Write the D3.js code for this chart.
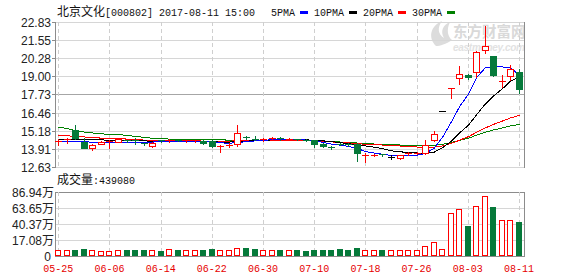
<!DOCTYPE html>
<html><head><meta charset="utf-8">
<script src="https://cdn.jsdelivr.net/npm/d3@7"></script>
<style>
html,body{margin:0;padding:0;background:#fff;}
svg{display:block;}
</style></head><body>
<svg id="c" width="578" height="276"></svg>
<script>
const stockName = "北京文化";
const stockInfo = "[000802] 2017-08-11 15:00";
const volLabel = "成交量";
const lastVolume = 439080;

const dates = ["05-25","05-26","05-31","06-01","06-02","06-05","06-06","06-07","06-08","06-09",
"06-12","06-13","06-14","06-15","06-16","06-19","06-20","06-21","06-22","06-23",
"06-26","06-27","06-28","06-29","06-30","07-03","07-04","07-05","07-06","07-07",
"07-10","07-11","07-12","07-13","07-14","07-17","07-18","07-19","07-20","07-21",
"07-24","07-25","07-26","07-27","07-28","07-31","08-01","08-02","08-03","08-04",
"08-07","08-08","08-09","08-10","08-11"];

const open = [14.44,14.56,15.23,14.41,13.97,14.25,14.43,14.41,14.50,14.50,
 14.32,14.13,14.52,14.45,14.52,14.45,14.45,14.46,14.48,14.05,
 14.17,14.23,14.71,14.60,14.55,14.60,14.67,14.55,14.58,14.55,
 14.50,14.27,14.03,14.28,14.25,14.22,13.44,13.45,13.53,13.35,
 13.28,13.55,13.58,13.59,14.50,16.55,18.15,18.87,19.10,19.29,
 20.84,20.44,18.66,19.05,19.29];
const high = [14.58,14.65,15.58,14.65,14.22,14.43,14.50,14.60,14.52,14.65,
 14.33,14.37,14.55,14.58,14.55,14.55,14.56,14.50,14.50,14.18,
 14.30,15.58,14.83,14.83,14.70,14.75,14.72,14.66,14.60,14.58,
 14.53,14.32,14.12,14.30,14.32,14.35,13.59,13.55,13.56,13.45,
 13.50,13.68,13.70,14.53,15.16,16.55,18.17,19.73,19.20,20.80,
 22.55,20.44,19.10,19.80,19.52];
const low = [14.18,14.30,14.60,13.97,13.83,14.22,13.95,14.39,14.42,14.25,
 14.18,14.05,14.40,14.42,14.45,14.42,14.40,14.22,14.05,13.71,
 14.06,14.10,14.60,14.55,14.48,14.52,14.55,14.50,14.50,14.48,
 14.06,14.02,13.90,14.15,14.10,13.07,13.00,13.40,13.42,13.22,
 13.22,13.50,13.52,13.57,14.45,16.55,17.46,18.45,18.80,18.98,
 20.63,19.03,18.28,18.75,17.86];
const close = [14.47,14.59,14.65,13.99,14.20,14.41,14.46,14.58,14.45,14.47,
 14.30,14.35,14.44,14.52,14.48,14.50,14.52,14.32,14.08,14.08,
 14.20,15.00,14.68,14.57,14.60,14.68,14.64,14.62,14.55,14.52,
 14.27,14.08,14.00,14.22,14.22,13.59,13.47,13.48,13.50,13.35,
 13.45,13.62,13.64,14.18,14.93,16.55,18.17,19.15,18.94,20.74,
 21.14,19.10,18.70,19.50,18.10];
const volume = [25000,26000,24000,40000,25000,11000,12000,25000,24000,25000,
 26000,24000,12000,35000,25000,24000,25000,26000,40000,25000,
 24000,59000,54000,40000,25000,24000,26000,25000,24000,15000,
 25000,26000,24000,40000,26000,54000,25000,24000,25000,26000,
 25000,24000,26000,83000,142000,35000,559000,618000,375000,666000,
 811000,651000,462000,462000,439080];

const ma5 = [14.48,14.48,14.48,14.45,14.40,14.38,14.37,14.37,14.37,14.40,
 14.40,14.42,14.45,14.47,14.48,14.48,14.48,14.47,14.42,14.36,
 14.34,14.38,14.45,14.50,14.55,14.58,14.58,14.58,14.58,14.56,
 14.52,14.38,14.28,14.20,14.12,13.97,13.75,13.64,13.56,13.48,
 13.44,13.47,13.50,13.62,14.00,14.75,15.85,16.90,17.80,18.95,
 19.66,19.72,19.70,19.66,19.10];
const ma10 = [14.62,14.62,14.62,14.62,14.60,14.57,14.55,14.53,14.52,14.52,
 14.50,14.48,14.46,14.45,14.44,14.44,14.44,14.44,14.43,14.42,
 14.42,14.45,14.48,14.52,14.55,14.57,14.58,14.58,14.58,14.57,
 14.55,14.50,14.45,14.38,14.30,14.22,14.15,14.06,13.95,13.80,
 13.73,13.69,13.65,13.65,13.72,14.02,14.49,15.06,15.60,16.34,
 17.11,17.66,18.17,18.70,19.02];
const ma20 = [14.88,14.86,14.81,14.78,14.72,14.70,14.67,14.65,14.63,14.59,
 14.56,14.55,14.54,14.53,14.52,14.51,14.50,14.49,14.49,14.49,
 14.49,14.50,14.51,14.52,14.52,14.52,14.52,14.52,14.52,14.52,
 14.51,14.47,14.43,14.40,14.36,14.30,14.27,14.24,14.21,14.17,
 14.14,14.10,14.07,14.06,14.07,14.15,14.33,14.55,14.80,15.10,
 15.42,15.66,15.90,16.12,16.30];
const ma30 = [15.47,15.36,15.22,15.12,15.06,15.00,14.96,14.93,14.90,14.80,
 14.76,14.68,14.65,14.63,14.62,14.61,14.60,14.59,14.58,14.57,
 14.56,14.56,14.55,14.55,14.55,14.55,14.55,14.54,14.54,14.53,
 14.50,14.47,14.45,14.42,14.38,14.35,14.31,14.28,14.26,14.23,
 14.21,14.20,14.19,14.19,14.20,14.26,14.39,14.54,14.69,14.90,
 15.11,15.27,15.41,15.55,15.66];

const maNames = ["5PMA","10PMA","20PMA","30PMA"];
const priceTicks = [12.63,13.91,15.18,16.46,17.73,19.00,20.28,21.55,22.83];
const volTicks = [170800,403700,636500,869400];
const volTickLabels = ["17.08万","40.37万","63.65万","86.94万"];
const volZeroLabel = "0";
const xTicks = ["05-25","06-06","06-14","06-22","06-30","07-10","07-18","07-26","08-03","08-11"];

// ---------- drawing ----------
const RED = "#ff0000", GREEN = "#05793a", GRID = "#d6d6d6", AXIS = "#8c8c8c";
const maColors = ["#0000ff", "#000000", "#ff0000", "#008000"];
const L = 55, R = 524, PT = 22, PB = 167, VT = 192, VB = 256;
const MONO = "'Liberation Mono','DejaVu Sans Mono',monospace";
const CJK = "'Noto Sans CJK SC','Noto Sans',sans-serif";
const SANS = "'Liberation Sans',Arial,sans-serif";

const svg = d3.select("#c");
const x = d3.scalePoint().domain(dates).range([58.3, 519]);
const yP = d3.scaleLinear().domain([12.63, 22.83]).range([PB, PT]);
const yV = d3.scaleLinear().domain([-62070, 869400]).range([VB, VT]);
const cx = d => Math.round(x(d));
const py = v => Math.round(yP(v));

// watermark
const wm = svg.append("g");
wm.append("path")
  .attr("d", "M436,46 C428,38 430,26 442,21 C437,28 438,34 444,38 C440,31 443,25 450,22 C446,30 448,37 452,40 C446,44 440,46 436,46 Z")
  .attr("fill", "#dcdcdc");
wm.append("text").attr("x", 453).attr("y", 37).text("东方财富网")
  .attr("font-family", CJK).attr("font-size", 14.5).attr("font-weight", "bold").attr("fill", "#d9d9d9");
wm.append("text").attr("x", 453).attr("y", 51).text("eastmoney.com")
  .attr("font-family", SANS).attr("font-size", 10).attr("font-weight", "bold").attr("font-style", "italic")
  .attr("fill", "#e2e2e2").attr("textLength", 72);

const grid = svg.append("g").attr("shape-rendering", "crispEdges");
priceTicks.forEach((t, i) => {
  const y = py(t) + 0.5;
  grid.append("line").attr("x1", L).attr("x2", R).attr("y1", y).attr("y2", y)
    .attr("stroke", i === 4 ? "#a6a6a6" : GRID);
});
volTicks.forEach((t, i) => {
  const y = Math.round(yV(t)) + 0.5;
  grid.append("line").attr("x1", L).attr("x2", R).attr("y1", y).attr("y2", y)
    .attr("stroke", i === volTicks.length - 1 ? AXIS : GRID);
});
xTicks.forEach(d => {
  const xx = cx(d) + 0.5;
  [[PT, PB], [VT, VB]].forEach(([a, b]) => {
    grid.append("line").attr("x1", xx).attr("x2", xx).attr("y1", a).attr("y2", b)
      .attr("stroke", "#cfcfcf").attr("stroke-dasharray", "4,3");
  });
});
[[PT, PB], [VT, VB]].forEach(([a, b]) => {
  grid.append("line").attr("x1", L + 0.5).attr("x2", L + 0.5).attr("y1", a).attr("y2", b + 0.5).attr("stroke", AXIS);
  grid.append("line").attr("x1", R + 0.5).attr("x2", R + 0.5).attr("y1", a).attr("y2", b + 0.5).attr("stroke", AXIS);
});
grid.append("line").attr("x1", L).attr("x2", R + 1).attr("y1", VB + 0.5).attr("y2", VB + 0.5).attr("stroke", AXIS);

const axg = svg.append("g");
priceTicks.forEach(t => {
  const y = py(t);
  axg.append("line").attr("x1", 52).attr("x2", L).attr("y1", y + 0.5).attr("y2", y + 0.5)
    .attr("stroke", AXIS).attr("shape-rendering", "crispEdges");
  axg.append("text").attr("x", 51).attr("y", y + 5).attr("text-anchor", "end")
    .attr("font-family", SANS).attr("font-size", 12).attr("fill", "#222").text(d3.format(".2f")(t));
});
volTicks.forEach((t, i) => {
  const y = Math.round(yV(t));
  axg.append("text").attr("x", 54).attr("y", y + 5).attr("text-anchor", "end")
    .attr("font-family", SANS).attr("font-size", 12).attr("fill", "#222")
    .call(s => {
      s.append("tspan").text(volTickLabels[i].replace("万", ""));
      s.append("tspan").attr("font-family", CJK).attr("font-size", 12).text("万");
    });
});
axg.append("text").attr("x", 51).attr("y", VB + 5).attr("text-anchor", "end")
  .attr("font-family", SANS).attr("font-size", 12).attr("fill", "#222").text(volZeroLabel);

xTicks.forEach(d => {
  axg.append("text").attr("x", x(d)).attr("y", 272).attr("text-anchor", "middle")
    .attr("font-family", MONO).attr("font-size", 10).attr("fill", "#e60000").text(d);
});

const title = svg.append("text").attr("x", 57).attr("y", 16).attr("fill", "#111");
title.append("tspan").attr("font-family", CJK).attr("font-size", 12).text(stockName);
title.append("tspan").attr("font-family", MONO).attr("font-size", 10).text(stockInfo);

let lx = 271;
maNames.forEach((n, i) => {
  svg.append("text").attr("x", lx).attr("y", 16).attr("font-family", MONO)
    .attr("font-size", 10).attr("fill", "#111").text(n);
  lx += n.length * 6 + 5;
  svg.append("rect").attr("x", lx).attr("y", 11).attr("width", 8).attr("height", 3)
    .attr("fill", maColors[i]).attr("shape-rendering", "crispEdges");
  lx += 8 + 6;
});

const vh = svg.append("text").attr("x", 57).attr("y", 184).attr("fill", "#111");
vh.append("tspan").attr("font-family", CJK).attr("font-size", 12).text(volLabel);
vh.append("tspan").attr("font-family", MONO).attr("font-size", 10).text(":" + lastVolume);

const vg = svg.append("g").attr("shape-rendering", "crispEdges");
dates.forEach((d, i) => {
  const xc = cx(d);
  const top = Math.round(yV(volume[i]));
  const up = close[i] >= open[i];
  if (up) {
    vg.append("rect").attr("x", xc - 3 + 0.5).attr("y", top + 0.5)
      .attr("width", 5).attr("height", Math.max(1, VB - top - 1))
      .attr("fill", "#fff").attr("stroke", RED);
  } else {
    vg.append("rect").attr("x", xc - 3).attr("y", top)
      .attr("width", 6).attr("height", VB - top).attr("fill", GREEN);
  }
});

const mg = svg.append("g");
[ma30, ma20, ma10, ma5].forEach((arr, k) => {
  const ci = 3 - k;
  mg.append("path").datum(arr)
    .attr("d", d3.line().x((v, i) => cx(dates[i]) + 0.5).y(v => yP(v) + 0.5))
    .attr("fill", "none").attr("stroke", maColors[ci]).attr("stroke-width", 1)
    .attr("shape-rendering", "crispEdges");
});

const cg = svg.append("g").attr("shape-rendering", "crispEdges");
dates.forEach((d, i) => {
  const xc = cx(d);
  const o = py(open[i]), c = py(close[i]), h = py(high[i]), l = py(low[i]);
  const col = close[i] > open[i] ? RED : (close[i] < open[i] ? GREEN : "#000");
  cg.append("line").attr("x1", xc + 0.5).attr("x2", xc + 0.5).attr("y1", h).attr("y2", l + 1).attr("stroke", col);
  const top = Math.min(o, c), bot = Math.max(o, c);
  if (bot - top < 2) {
    cg.append("line").attr("x1", xc - 3).attr("x2", xc + 4).attr("y1", top + 0.5).attr("y2", top + 0.5).attr("stroke", col);
  } else if (col === RED) {
    cg.append("rect").attr("x", xc - 3 + 0.5).attr("y", top + 0.5).attr("width", 6).attr("height", bot - top)
      .attr("fill", "#fff").attr("stroke", RED);
  } else {
    cg.append("rect").attr("x", xc - 3).attr("y", top).attr("width", 7).attr("height", bot - top + 1)
      .attr("fill", col);
  }
});
</script>
</body></html>
